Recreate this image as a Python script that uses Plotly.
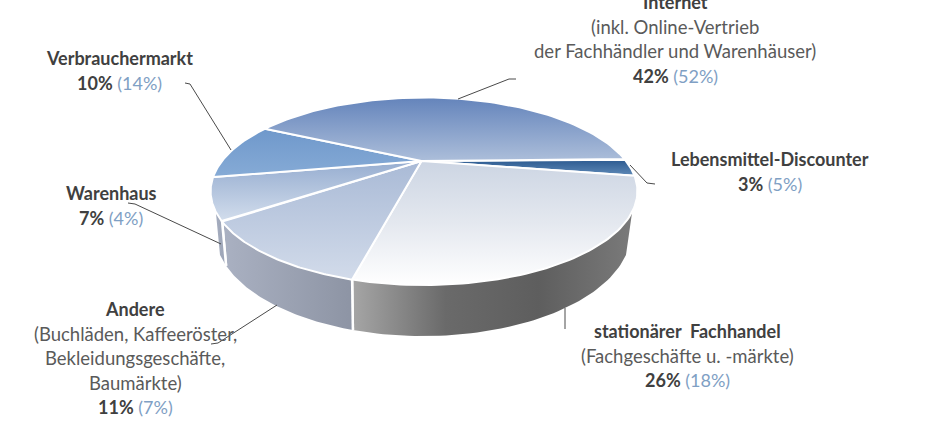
import numpy as np
import plotly.graph_objects as go

# order: clockwise from the internet slice's end
names = ['Lebensmittel-Discounter', 'stationärer  Fachhandel', 'Andere', 'Warenhaus', 'Verbrauchermarkt', 'Internet']
shares = [3, 26, 11, 7, 10, 42]
shares_prev = [5, 18, 7, 4, 14, 52]
notes = [
    [],
    ['(Fachgeschäfte u. -märkte)'],
    ['(Buchläden, Kaffeeröster,', 'Bekleidungsgeschäfte,', 'Baumärkte)'],
    [],
    [],
    ['(inkl. Online-Vertrieb', 'der Fachhändler und Warenhäuser)'],
]

# colours run bottom to top on the vertical gradients (y axis is flipped)
top_colors = [
    ['#5f8ab8', '#2c5a90'],
    ['#ffffff', '#e4e8ef', '#ccd5e3'],
    ['#d2dbea', '#a9bad6'],
    ['#d2ddec', '#96add0'],
    ['#86abd6', '#6f98cb'],
    ['#acbeda', '#6484bb'],
]
wall_colors = [
    None,
    ['#a6a6a6', '#6a6a6a', '#5e5e5e', '#7a7a7a'],
    ['#aab1c2', '#8d94a4'],
    ['#a5adbf', '#9ba3b5'],
    None,
    None,
]

# label centres, first line y
label_x = [770, 687, 135, 111, 119, 675]
label_y = [159, 331, 309, 193, 58, 2]
line_gap = 24.5

leaders = [
    ([630, 647, 655], [165, 183, 184]),
    ([565, 565], [308, 329]),
    ([277, 218, 211], [305, 343, 344]),
    ([221, 135, 128], [244, 204, 203]),
    ([231, 190, 185], [150, 84, 83]),
    ([458, 509, 516], [99, 79, 79]),
]

START_ANGLE = 1.3
WALL_FROM = -30.5
WALL_TO = -149.5
TILT = 0.3227
APEX_X, APEX_Y = 421.5, 161


def project(angle, cx, cy, a, b):
    t = np.radians(angle)
    u, v = np.cos(t), np.sin(t)
    w = 1 + TILT * v
    return cx + a * u / w, cy - b * v / w


def top(angle):
    return project(angle, 424, 161, 202, 84)


def bottom(angle):
    return project(angle, 423, 198.5, 197, 93.2)


def solid(colors):
    return [[i / (len(colors) - 1), c] for i, c in enumerate(colors)]


fig = go.Figure()
spans = np.array(shares) / sum(shares) * 360
ends = START_ANGLE - np.cumsum(spans)
starts = ends + spans

# side wall first so the top sits over it
for s, e, colors in zip(starts, ends, wall_colors):
    s2, e2 = min(s, WALL_FROM), max(e, WALL_TO)
    if colors is None or s2 <= e2:
        continue
    arc = np.linspace(s2, e2, 60)
    x1, y1 = top(arc)
    x2, y2 = bottom(arc[::-1])
    fig.add_trace(go.Scatter(
        x=np.r_[x1, x2, x1[0]], y=np.r_[y1, y2, y1[0]], mode='lines', fill='toself',
        line=dict(color='rgba(255,255,255,0)', width=0),
        fillgradient=dict(type='horizontal', colorscale=solid(colors)),
        hoverinfo='skip', showlegend=False))
    # white divider on the wall
    for ang in (s2, e2):
        if WALL_TO < ang < WALL_FROM:
            ex1, ey1 = top(ang)
            ex2, ey2 = bottom(ang)
            fig.add_trace(go.Scatter(x=[ex1, ex2], y=[ey1, ey2], mode='lines',
                                     line=dict(color='white', width=2.5),
                                     hoverinfo='skip', showlegend=False))

# top face
for s, e, colors in zip(starts, ends, top_colors):
    arc = np.linspace(s, e, 80)
    x, y = top(arc)
    fig.add_trace(go.Scatter(
        x=np.r_[APEX_X, x, APEX_X], y=np.r_[APEX_Y, y, APEX_Y], mode='lines', fill='toself',
        line=dict(color='white', width=2),
        fillgradient=dict(type='vertical', colorscale=solid(colors)),
        hoverinfo='skip', showlegend=False))

for lx, ly in leaders:
    fig.add_trace(go.Scatter(x=lx, y=ly, mode='lines', line=dict(color='#4a4a4a', width=1),
                             hoverinfo='skip', showlegend=False))

# labels, one annotation per line because of the line spacing
for i, name in enumerate(names):
    rows = ['<b>%s</b>' % name] + notes[i]
    rows.append('<b>%d%%</b> <span style="color:#7fa0c4">(%d%%)</span>' % (shares[i], shares_prev[i]))
    for j, row in enumerate(rows):
        bold = row.startswith('<b>')
        fig.add_annotation(x=label_x[i], y=label_y[i] + j * line_gap, text=row, showarrow=False,
                           xanchor='center', yanchor='middle',
                           font=dict(family='Lato', size=18 if bold else 18.5,
                                     color='#404040' if bold else '#5a5a5a'))

fig.update_layout(
    width=945, height=421, margin=dict(l=0, r=0, t=0, b=0),
    paper_bgcolor='white', plot_bgcolor='white', showlegend=False,
    xaxis=dict(range=[0, 945], visible=False),
    yaxis=dict(range=[421, 0], visible=False),
)

# the page's default body margin would push the figure 8px off
fig.write_html("out.html", config={'displayModeBar': False},
               post_script="document.body.style.margin='0';")
